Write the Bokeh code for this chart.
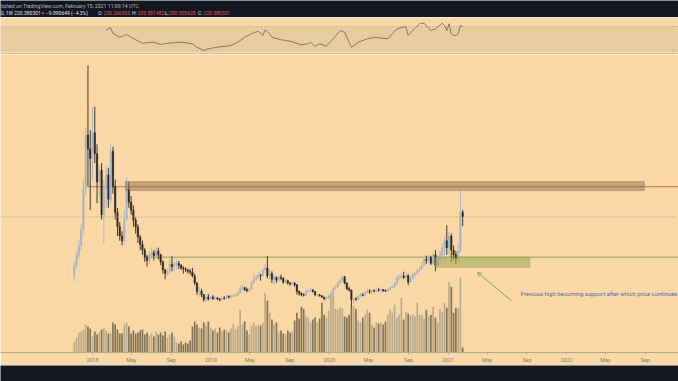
import pandas as pd
from bokeh.plotting import figure
from bokeh.models import (ColumnDataSource, Range1d, BoxAnnotation, Span, Label, Arrow,
                          OpenHead, FixedTicker, CustomJSTickFormatter)
from bokeh.layouts import column
from bokeh.embed import file_html
from bokeh.resources import INLINE

# ---------------- data (weekly candles) ----------------
first_week = "2017-11-06"
first_open = 95
closes = [118, 140, 160, 195, 280, 395, 365, 345, 400, 355,
          295, 320, 225, 280, 310, 258, 360, 285, 230, 200,
          180, 170, 215, 280, 252, 235, 214, 199, 178, 162,
          150, 135, 128, 140, 145, 138, 148, 140, 125, 108,
          100, 105, 120, 115, 118, 122, 118, 112, 110, 108,
          105, 103, 95, 80, 62, 63, 55, 45, 50, 46,
          50, 47, 48, 46, 44, 48, 47, 52, 50, 52,
          53, 54, 60, 68, 70, 66, 64, 66, 80, 88,
          92, 96, 95, 108, 112, 95, 100, 88, 92, 86,
          92, 90, 82, 85, 80, 78, 80, 76, 62, 58,
          55, 54, 62, 63, 65, 62, 55, 55, 53, 50,
          47, 47, 52, 58, 68, 72, 80, 85, 93, 80,
          68, 65, 45, 46, 45, 52, 55, 54, 60, 63,
          62, 64, 63, 65, 64, 66, 64, 63, 66, 70,
          72, 78, 90, 92, 95, 92, 96, 82, 90, 98,
          100, 106, 110, 118, 130, 128, 134, 122, 140, 118,
          130, 140, 155, 170, 155, 180, 150, 140, 132, 148,
          230.266593, 220.380301]
highs = [126, 148, 172, 205, 300, 410, 543, 405, 454, 455,
         375, 330, 335, 300, 330, 325, 377, 370, 300, 240,
         210, 190, 235, 305, 295, 265, 245, 220, 205, 182,
         170, 155, 140, 148, 155, 150, 157, 155, 142, 128,
         110, 112, 130, 137, 125, 130, 127, 120, 116, 114,
         110, 110, 112, 100, 82, 72, 68, 57, 56, 57,
         54, 54, 51, 50, 48, 50, 52, 56, 54, 55,
         56, 57, 63, 74, 76, 72, 70, 70, 84, 100,
         98, 104, 100, 112, 120, 137, 110, 105, 96, 94,
         95, 98, 92, 88, 87, 82, 84, 82, 78, 64,
         60, 58, 68, 68, 70, 67, 63, 57, 57, 54,
         51, 52, 56, 62, 72, 76, 84, 91, 98, 95,
         82, 72, 66, 48, 50, 55, 58, 58, 62, 68,
         67, 67, 66, 68, 70, 68, 67, 66, 68, 72,
         75, 82, 96, 98, 100, 104, 100, 98, 95, 102,
         105, 110, 116, 125, 135, 138, 140, 138, 145, 150,
         138, 148, 165, 180, 203, 190, 185, 160, 148, 165,
         277, 235.581482]
lows = [84, 112, 130, 150, 185, 265, 285, 235, 300, 335,
        250, 265, 215, 165, 240, 240, 250, 270, 215, 180,
        170, 160, 165, 212, 240, 225, 200, 185, 165, 150,
        140, 125, 115, 120, 135, 128, 135, 130, 118, 100,
        88, 95, 100, 105, 105, 110, 110, 108, 100, 103,
        100, 98, 92, 76, 55, 50, 50, 40, 42, 43,
        44, 44, 44, 44, 41, 43, 45, 46, 47, 48,
        50, 51, 52, 58, 64, 63, 60, 61, 65, 78,
        85, 88, 85, 94, 105, 90, 87, 80, 76, 80,
        84, 86, 78, 79, 76, 74, 76, 72, 55, 53,
        52, 51, 52, 59, 61, 60, 52, 50, 51, 48,
        43, 45, 46, 51, 57, 66, 70, 78, 83, 77,
        65, 62, 28, 36, 42, 44, 50, 52, 53, 58,
        57, 56, 60, 60, 62, 62, 61, 61, 62, 64,
        68, 70, 76, 86, 88, 88, 90, 75, 80, 88,
        92, 98, 104, 108, 116, 120, 122, 118, 120, 105,
        115, 126, 138, 130, 140, 140, 125, 130, 120, 127,
        145, 200.555628]
volumes = [11, 15, 20, 21, 23, 28, 26, 24, 16, 21,
           18, 20, 23, 25, 22, 19, 19, 30, 28, 23,
           19, 19, 28, 30, 26, 19, 22, 19, 20, 22,
           23, 18, 20, 17, 19, 16, 21, 18, 20, 17,
           21, 15, 18, 20, 16, 10, 9, 11, 8, 10,
           9, 12, 26, 31, 28, 25, 24, 30, 27, 31,
           25, 22, 24, 20, 25, 21, 23, 22, 20, 24,
           29, 23, 27, 43, 28, 31, 22, 18, 27, 30,
           26, 28, 27, 30, 60, 52, 40, 33, 28, 30,
           20, 22, 19, 18, 22, 20, 21, 32, 40, 34,
           46, 44, 36, 35, 30, 33, 35, 30, 34, 50,
           38, 35, 42, 58, 60, 44, 43, 45, 44, 36,
           35, 38, 46, 47, 44, 32, 30, 35, 38, 43,
           40, 28, 25, 30, 29, 30, 28, 31, 38, 43,
           40, 48, 35, 38, 55, 33, 41, 39, 37, 38,
           36, 50, 38, 38, 34, 43, 36, 38, 46, 35,
           30, 44, 41, 50, 45, 71, 66, 40, 45, 45,
           75, 5]

rsi_dates = ["2018-02-12", "2018-02-26", "2018-03-05", "2018-03-26", "2018-04-16", "2018-05-07",
             "2018-06-04", "2018-07-09", "2018-07-30", "2018-08-20", "2018-10-01", "2018-11-05",
             "2018-11-19", "2018-12-10", "2018-12-24", "2019-01-21", "2019-03-04", "2019-03-25",
             "2019-04-15", "2019-05-13", "2019-05-27", "2019-06-10", "2019-06-17", "2019-07-01",
             "2019-07-08", "2019-08-05", "2019-09-02", "2019-10-07", "2019-10-28", "2019-11-04",
             "2019-11-18", "2019-12-02", "2019-12-23", "2020-01-13", "2020-02-03", "2020-02-17",
             "2020-03-09", "2020-03-30", "2020-04-27", "2020-05-18", "2020-06-29", "2020-07-13",
             "2020-07-27", "2020-08-24", "2020-08-31", "2020-09-14", "2020-10-05", "2020-10-19",
             "2020-11-09", "2020-11-23", "2020-12-14", "2020-12-21", "2020-12-28", "2021-01-04",
             "2021-01-11", "2021-01-18", "2021-01-25", "2021-02-01", "2021-02-08", "2021-02-15"]
rsi_values = [64.6, 67.9, 58.6, 52.5, 56.9, 50.4,
              42.7, 44.4, 40.6, 42.7, 44.4, 41.8,
              36.2, 30.8, 33.6, 36.2, 39.0, 44.4,
              52.5, 59.7, 62.3, 55.3, 64.6, 58.1,
              52.5, 48.3, 46.0, 40.0, 42.0, 44.4,
              37.8, 41.8, 37.8, 49.9, 63.5, 60.7,
              36.2, 44.4, 49.9, 52.5, 49.9, 58.1,
              66.2, 70.0, 55.3, 63.5, 74.4, 75.4,
              63.5, 66.2, 75.4, 72.0, 63.5, 74.4,
              58.1, 55.3, 55.3, 58.1, 71.6, 70.0]

tick_dates = ["2018-01-01", "2018-05-01", "2018-09-01", "2019-01-01", "2019-05-01", "2019-09-01",
              "2020-01-01", "2020-05-01", "2020-09-01", "2021-01-01", "2021-05-01", "2021-09-01",
              "2022-01-01", "2022-05-01", "2022-09-01"]
tick_labels = ["2018", "May", "Sep", "2019", "May", "Sep", "2020", "May", "Sep",
               "2021", "May", "Sep", "2022", "May", "Sep"]

# drawn levels / zones (price, date)
resist_zone = dict(left="2018-04-12", right="2022-08-29", bottom=276.7, top=295.7)
red_level, red_start = 284.7, "2017-12-20"
green_level, green_start = 135.0, "2018-06-13"
support_zone = dict(left="2020-11-21", right="2021-09-10", bottom=113.4, top=135.0)
arrow_tail = ("2021-07-15", 42.4)
arrow_tip = ("2021-04-02", 102.4)
note_pos = ("2021-08-12", 56.2)
note_text = "Previous high becoming support after which price continues"

# ---------------- styling ----------------
BG = "#f9d8a6"
BAND = "#e8cb9f"
SEP = "#d9bc92"
DARK = "#131722"
UP = "#a9b2c5"
DOWN = "#2c2824"
VOL_UP = "#bcab8d"
VOL_DOWN = "#857456"
FONT = "Roboto"
W = 678


def ms(s):
    return pd.Timestamp(s).value / 1e6


x_start, x_end = ms("2017-03-23 10:00"), ms("2022-12-12 05:00")
xr = Range1d(x_start, x_end)

dates = pd.date_range(first_week, periods=len(closes), freq="7D")
opens = [first_open] + closes[:-1]
is_up = [c >= o for o, c in zip(opens, closes)]
src = ColumnDataSource(dict(
    date=dates,
    open=opens, close=closes, high=highs, low=lows, vol=volumes,
    top=[max(o, c) for o, c in zip(opens, closes)],
    bottom=[min(o, c) for o, c in zip(opens, closes)],
    color=[UP if u else DOWN for u in is_up],
    vcolor=[VOL_UP if u else VOL_DOWN for u in is_up],
))

DAY = 24 * 3600 * 1000

# ---------------- header ----------------
hdr = figure(width=W, height=17, x_range=Range1d(0, 1), y_range=Range1d(0, 1),
             x_axis_location=None, y_axis_location=None, toolbar_location=None,
             output_backend="svg", min_border=0, outline_line_color=None,
             background_fill_color=DARK, border_fill_color=DARK)
hdr.grid.visible = False


def hlabel(x, y, text, color, size="5px"):
    hdr.add_layout(Label(x=x, y=y, x_units="screen", y_units="screen", text=text,
                         text_color=color, text_font=FONT, text_font_size=size,
                         text_baseline="middle", text_align="left"))


hlabel(0.5, 11.6, "lished on TradingView.com, February 15, 2021 11:09:14 UTC", "#b2b5be", "5.2px")
RED = "#ef5350"
LIGHT = "#e0e3eb"
Y2 = 4.2
hlabel(0.0, Y2, "D, 1W 220.380301", LIGHT)
hlabel(40.0, Y2, "\u25bc", RED, "4.5px")
hlabel(45.5, Y2, "\u22129.890649 (\u22124.3%)", LIGHT)
hlabel(97.5, Y2, "O:", LIGHT)
hlabel(103.0, Y2, "230.266593", RED)
hlabel(131.5, Y2, "H:", LIGHT)
hlabel(137.0, Y2, "235.581482", RED)
hlabel(164.5, Y2, "L:", LIGHT)
hlabel(168.5, Y2, "200.555628", RED)
hlabel(197.5, Y2, "C:", LIGHT)
hlabel(203.0, Y2, "220.380301", RED)

# ---------------- RSI pane ----------------
rsi = figure(width=W, height=37, x_range=xr, y_range=Range1d(27.55, 84.7),
             x_axis_location=None, y_axis_location=None, toolbar_location=None,
             output_backend="svg", min_border=0, min_border_bottom=2,
             outline_line_color=None, background_fill_color=BG, border_fill_color=SEP)
rsi.grid.visible = False
rsi.add_layout(BoxAnnotation(bottom=30, top=70, fill_color=BAND, fill_alpha=1.0,
                             line_color=None, level="underlay"))
for lvl in (70, 30):
    rsi.add_layout(Span(location=lvl, dimension="width", line_color="#cbb088",
                        line_dash="2 2", line_width=1, level="underlay"))
rsi.line(x=pd.to_datetime(rsi_dates), y=rsi_values, line_color="#7c7262", line_width=0.9)

# ---------------- main pane ----------------
p = figure(width=W, height=311, x_range=xr, y_range=Range1d(-67.8, 566.0),
           x_axis_type="datetime", y_axis_location=None, toolbar_location=None,
           output_backend="svg", min_border=0, min_border_bottom=12,
           outline_line_color=None, background_fill_color=BG, border_fill_color=BG)
p.grid.visible = False
p.extra_y_ranges = {"vol": Range1d(0, 299)}

p.vbar(x="date", width=5.2 * DAY, top="vol", bottom=0, y_range_name="vol",
       fill_color="vcolor", line_color=None, source=src)

p.add_layout(Span(location=closes[-1], dimension="width", line_color="#a89b8a",
                  line_dash="1 2", line_width=1))

p.add_layout(BoxAnnotation(left=ms(resist_zone["left"]), right=ms(resist_zone["right"]),
                           bottom=resist_zone["bottom"], top=resist_zone["top"],
                           fill_color="#8b6d4e", fill_alpha=0.5,
                           line_color="#6e5a46", line_width=1))
p.segment(x0=[ms(red_start)], y0=[red_level], x1=[x_end], y1=[red_level],
          line_color="#d9665a", line_width=1)
p.segment(x0=[ms(green_start)], y0=[green_level], x1=[x_end], y1=[green_level],
          line_color="#8da35a", line_width=1)
p.add_layout(BoxAnnotation(left=ms(support_zone["left"]), right=ms(support_zone["right"]),
                           bottom=support_zone["bottom"], top=support_zone["top"],
                           fill_color="#9aa54f", fill_alpha=0.55,
                           line_color="#7d8b45", line_width=1))

p.segment(x0="date", y0="low", x1="date", y1="high", line_color="color",
          line_width=0.9, source=src)
p.vbar(x="date", width=4.3 * DAY, top="top", bottom="bottom", fill_color="color",
       line_color="color", line_width=0.5, source=src)

p.add_layout(Arrow(x_start=ms(arrow_tail[0]), y_start=arrow_tail[1],
                   x_end=ms(arrow_tip[0]), y_end=arrow_tip[1],
                   line_color="#8da35a", line_width=1,
                   end=OpenHead(size=4, line_color="#8da35a", line_width=1)))
p.add_layout(Label(x=ms(note_pos[0]), y=note_pos[1], text=note_text,
                   text_color="#4a6cae", text_font=FONT, text_font_size="5.9px",
                   text_baseline="middle", text_align="left"))

tick_ms = [ms(d) for d in tick_dates]
ax = p.xaxis[0]
ax.ticker = FixedTicker(ticks=tick_ms)
ax.formatter = CustomJSTickFormatter(args=dict(tick_vals=tick_ms, tick_names=tick_labels), code="""
let best = -1, bd = 1e20;
for (let i = 0; i < tick_vals.length; i++) {
  const d = Math.abs(tick_vals[i] - tick);
  if (d < bd) { bd = d; best = i; }
}
return (best >= 0 && bd < 864e5) ? tick_names[best] : "";
""")
ax.axis_line_color = "#b5a58e"
ax.major_tick_line_color = "#b5a58e"
ax.major_tick_out = 2
ax.major_tick_in = 0
ax.minor_tick_out = 0
ax.minor_tick_in = 0
ax.major_label_standoff = 2
ax.major_label_text_font = FONT
ax.major_label_text_font_size = "5.4px"
ax.major_label_text_color = "#85796a"

# ---------------- footer ----------------
ftr = figure(width=W, height=16, x_range=Range1d(0, 1), y_range=Range1d(0, 1),
             x_axis_location=None, y_axis_location=None, toolbar_location=None,
             output_backend="svg", min_border=0, outline_line_color=None,
             background_fill_color=DARK, border_fill_color=DARK)
ftr.grid.visible = False

layout = column(hdr, rsi, p, ftr, spacing=0)
open("out.html", "w").write(file_html(layout, INLINE))
